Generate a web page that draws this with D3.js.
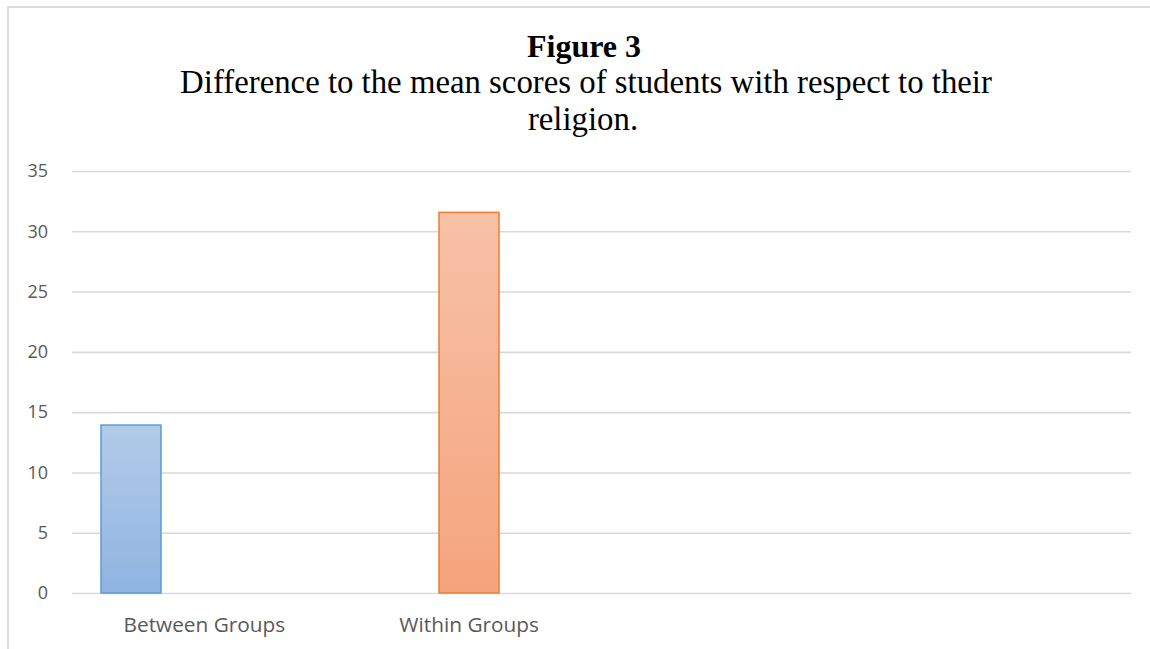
<!DOCTYPE html>
<html>
<head>
<meta charset="utf-8">
<script src="https://cdn.jsdelivr.net/npm/d3@7"></script>
<style>
  html, body { margin: 0; padding: 0; background: #ffffff; }
  svg { display: block; }
</style>
</head>
<body>
<svg id="chart" width="1150" height="649"></svg>
<script>
// Category slots along the x axis (the last two are unlabeled)
const categories = ["Between Groups", "Within Groups", "", ""];
// Series in each cluster
const seriesKeys = ["s1", "s2", "s3"];
const seriesColors = {
  s1: { stroke: "#5b9bd5", top: "#b2cbe9", bottom: "#8fb4e0" },
  s2: { stroke: "#ed7d31", top: "#f8c1a8", bottom: "#f4a47c" }
};
// Values per series, one entry per category
const s1Values = [13.93, null, null, null];
const s2Values = [null, 31.57, null, null];
const s3Values = [null, null, null, null];
// Y axis ticks
const yTicks = [0, 5, 10, 15, 20, 25, 30, 35];

const titleText = "Figure 3";
const subtitleLines = [
  "Difference to the mean scores of students with respect to their",
  "religion."
];

const svg = d3.select("#chart");

// Chart frame
svg.append("rect")
  .attr("x", 8).attr("y", 7)
  .attr("width", 1300).attr("height", 800)
  .attr("fill", "#ffffff")
  .attr("stroke", "#d9d9d9")
  .attr("stroke-width", 1.8);

// Gradients for bar fills
const defs = svg.append("defs");
Object.entries(seriesColors).forEach(([k, c]) => {
  const g = defs.append("linearGradient")
    .attr("id", "grad-" + k)
    .attr("x1", 0).attr("y1", 0).attr("x2", 0).attr("y2", 1);
  g.append("stop").attr("offset", "0%").attr("stop-color", c.top);
  g.append("stop").attr("offset", "100%").attr("stop-color", c.bottom);
});

// Titles
svg.append("text")
  .attr("x", 584).attr("y", 57)
  .attr("text-anchor", "middle")
  .attr("font-family", "'Liberation Serif', 'Times New Roman', serif")
  .attr("font-weight", "bold")
  .attr("font-size", 32)
  .attr("fill", "#000000")
  .text(titleText);

svg.append("g").selectAll("text")
  .data(subtitleLines)
  .join("text")
  .attr("x", (d, i) => i === 0 ? 586 : 583)
  .attr("y", (d, i) => 93 + i * 36.5)
  .attr("text-anchor", "middle")
  .attr("font-family", "'Liberation Serif', 'Times New Roman', serif")
  .attr("font-size", 32.8)
  .attr("fill", "#000000")
  .text(d => d);

// Plot area bounds
const plotLeft = 72, plotRight = 1131, plotTop = 171, plotBottom = 593;
const x0 = d3.scaleBand()
  .domain(d3.range(categories.length))
  .range([plotLeft, plotRight])
  .paddingInner(0).paddingOuter(0);
const x1 = d3.scaleBand()
  .domain(seriesKeys)
  .range([29, 235.5])
  .paddingInner(0.181).paddingOuter(0);
const y = d3.scaleLinear().domain([0, 35]).range([plotBottom, plotTop]);

// Y axis with gridlines
const yAxis = svg.append("g")
  .attr("transform", `translate(${plotLeft},0)`)
  .call(d3.axisLeft(y)
    .tickValues(yTicks)
    .tickSize(-(plotRight - plotLeft))
    .tickPadding(24)
    .tickFormat(d3.format("d")));
yAxis.select(".domain").remove();
yAxis.selectAll(".tick line")
  .attr("stroke", "#d9d9d9")
  .attr("stroke-width", 1.6);
yAxis.selectAll(".tick text")
  .attr("fill", "#595959")
  .attr("font-family", "'Open Sans', sans-serif")
  .attr("font-size", 18);

// X axis labels
const xAxis = svg.append("g")
  .attr("transform", `translate(0,${plotBottom})`)
  .call(d3.axisBottom(x0)
    .tickSize(0)
    .tickPadding(24)
    .tickFormat(i => categories[i]));
xAxis.select(".domain").remove();
xAxis.selectAll(".tick text")
  .attr("fill", "#595959")
  .attr("font-family", "'Open Sans', sans-serif")
  .attr("font-size", 20.8);

// Bars
const seriesValues = { s1: s1Values, s2: s2Values, s3: s3Values };
const barData = [];
seriesKeys.forEach(k => {
  seriesValues[k].forEach((v, i) => {
    if (v != null) barData.push({ key: k, cat: i, value: v });
  });
});

svg.append("g").selectAll("rect")
  .data(barData)
  .join("rect")
  .attr("x", d => x0(d.cat) + x1(d.key))
  .attr("y", d => y(d.value))
  .attr("width", x1.bandwidth())
  .attr("height", d => y(0) - y(d.value))
  .attr("fill", d => `url(#grad-${d.key})`)
  .attr("stroke", d => seriesColors[d.key].stroke)
  .attr("stroke-width", 1.5);
</script>
</body>
</html>
